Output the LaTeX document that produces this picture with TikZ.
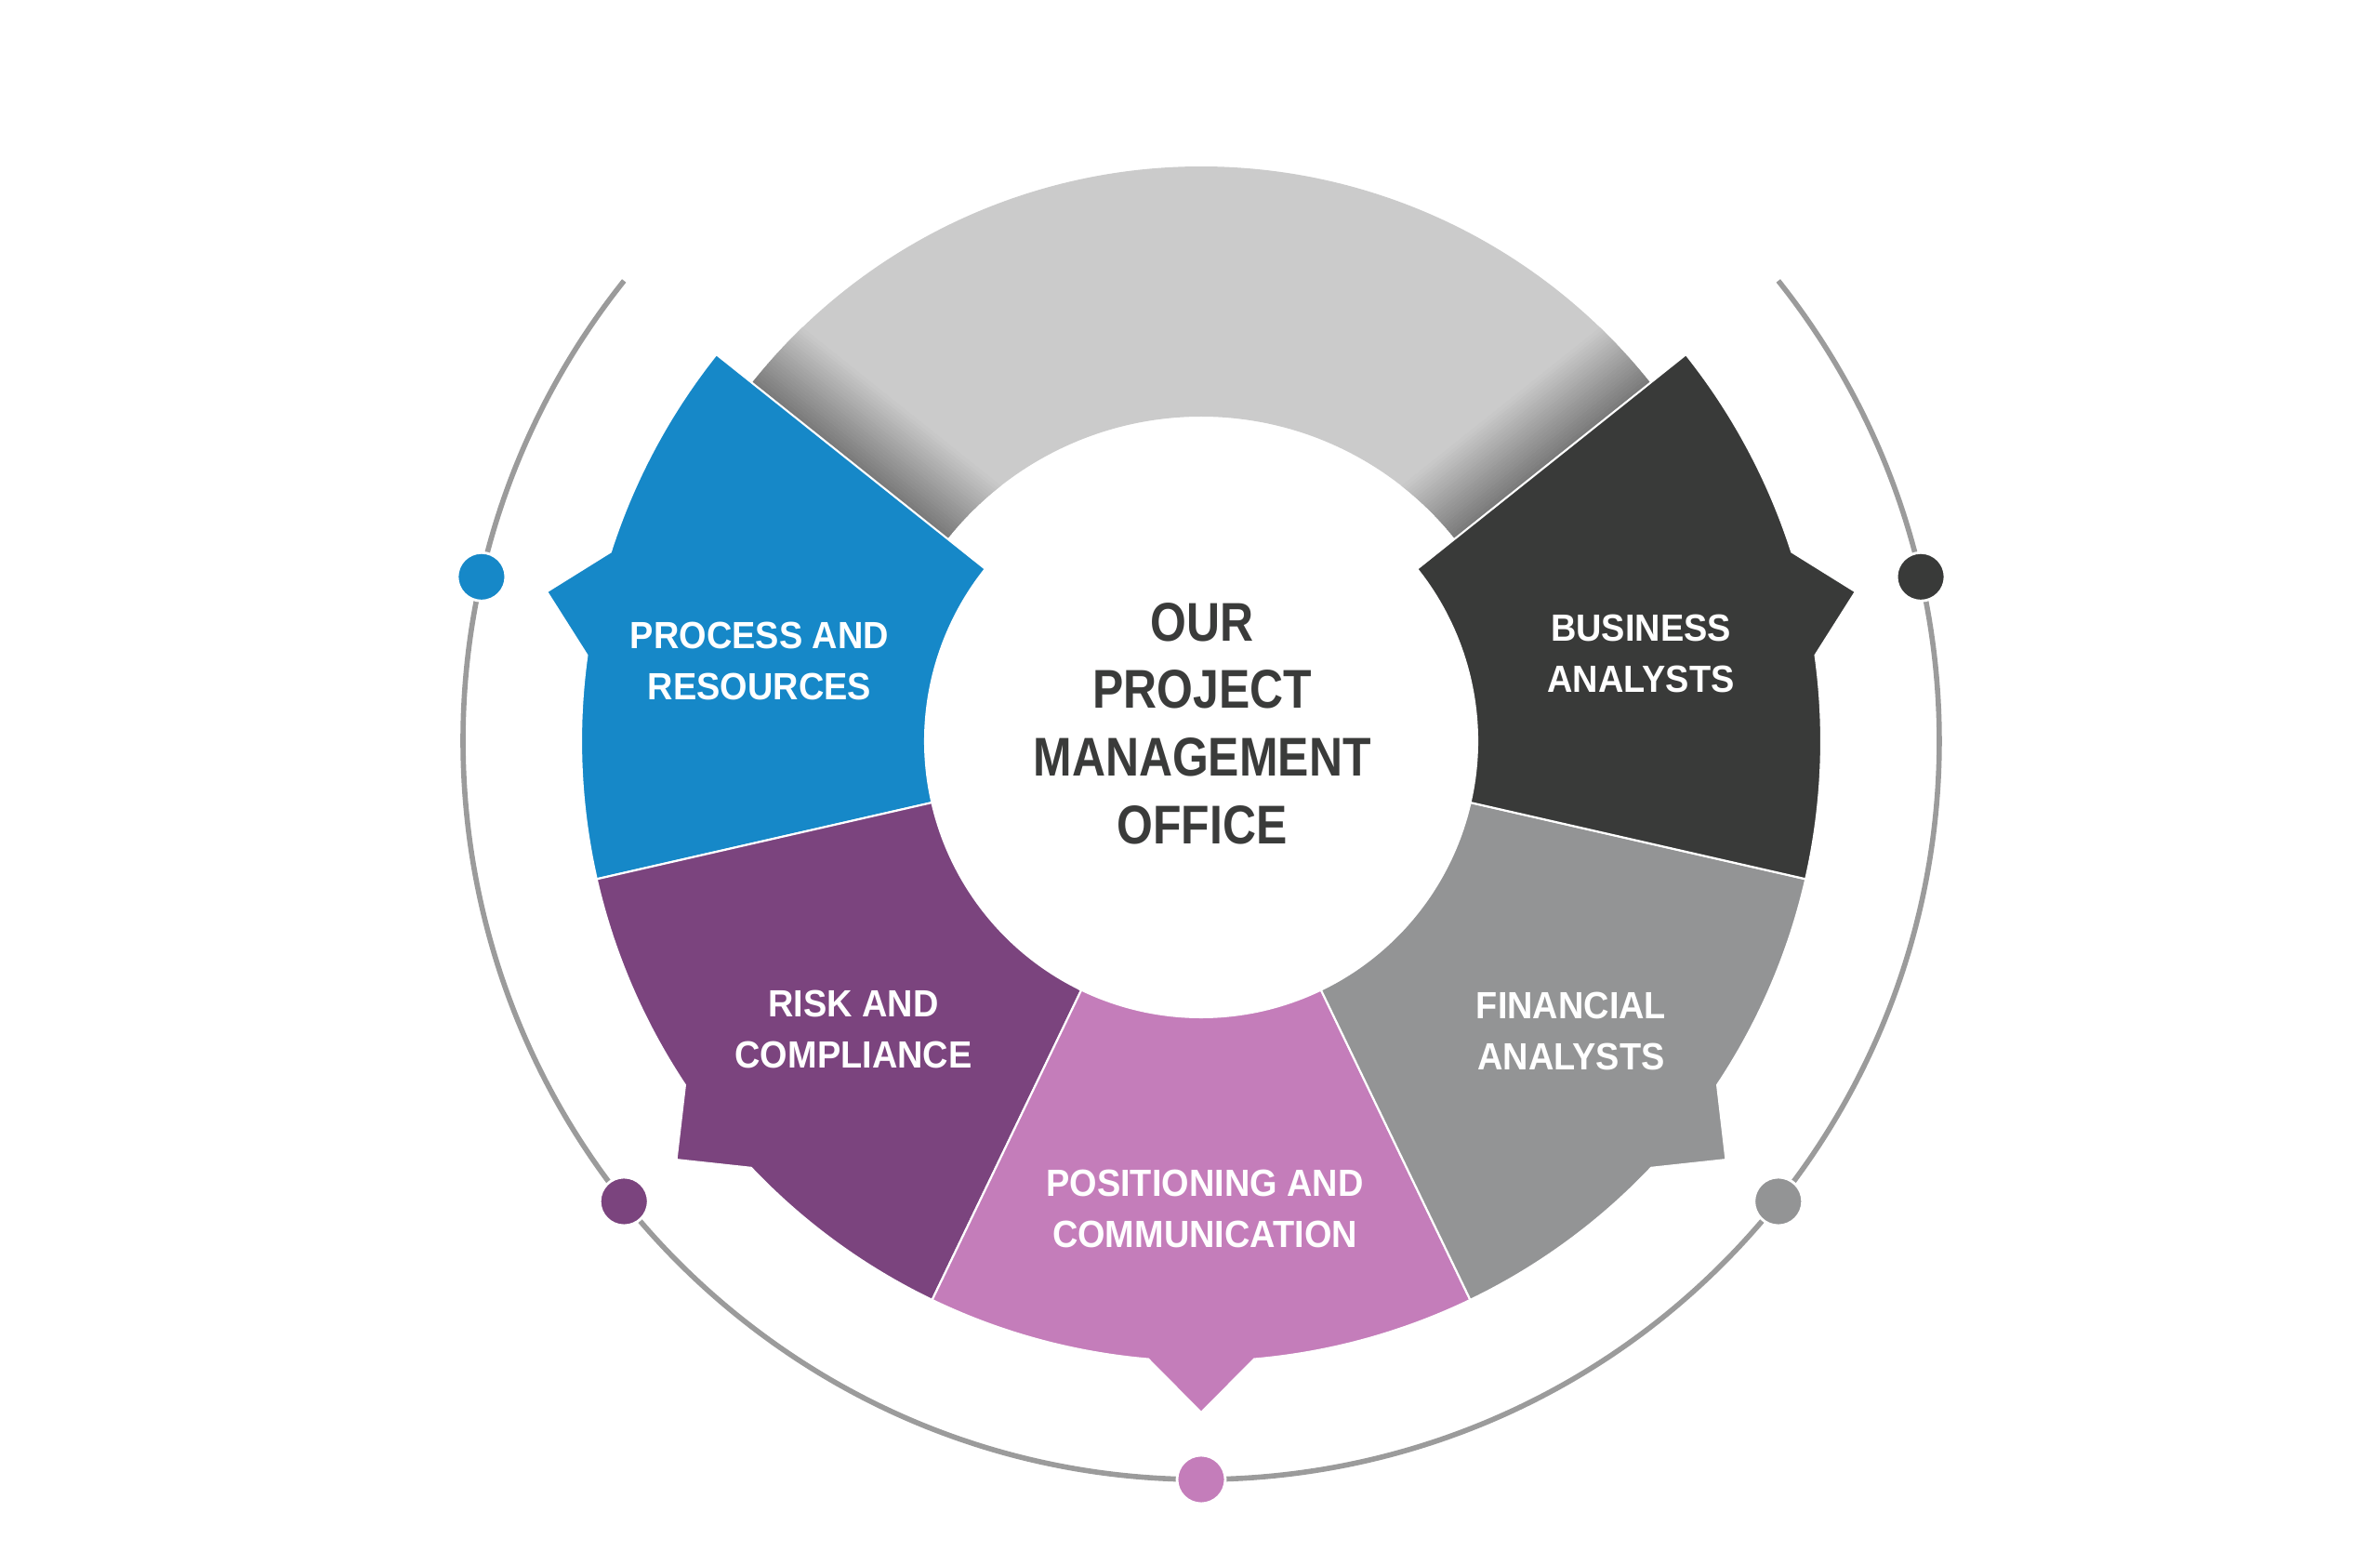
\documentclass[tikz,border=0pt]{standalone}
\usepackage{fontspec}
\setmainfont{Liberation Sans}
\newfontfamily\fuenteCentro[FakeStretch=0.85]{Liberation Sans}
\newfontfamily\fuenteEtiq[FakeStretch=0.93]{Liberation Sans}
\usepackage{xcolor}
\usepackage{tikz}
\usetikzlibrary{positioning}

\definecolor{azul}{HTML}{1688C8}
\definecolor{morado}{HTML}{7B447E}
\definecolor{rosa}{HTML}{C47DBA}
\definecolor{grisMedio}{HTML}{939495}
\definecolor{grisOscuro}{HTML}{393A39}
\definecolor{grisArco}{HTML}{CBCBCB}
\definecolor{grisSombra}{HTML}{7A7A7A}
\definecolor{grisLinea}{HTML}{9B9B9B}
\definecolor{textoOscuro}{HTML}{3A3B3A}

\begin{document}
\begin{tikzpicture}[
        segmento/.style={fill=#1, draw=white, line width=0.6pt},
        punto/.style={circle, fill=#1, draw=white, line width=0.8pt, minimum size=0.52cm, inner sep=0pt},
        etiqueta/.style={text=white, align=center, font=\fuenteEtiq\bfseries\fontsize{11.6}{15.8}\selectfont},
        titulo/.style={text=textoOscuro, align=center, font=\fuenteCentro\bfseries\fontsize{16.7}{20.7}\selectfont}
    ]
        % Marco
        \useasboundingbox (0,0) rectangle (25.6,16.69);
        \begin{scope}[shift={(12.92,8.72)}]
        % Circulo exterior
        \draw[grisLinea, line width=1.6pt] (141.43:7.94) arc[start angle=141.43, end angle=398.57, radius=7.94];
        % Arco gris de arriba
        \begin{scope}
            \clip (38.57:6.18) arc[start angle=38.57, end angle=141.43, radius=6.18] -- (141.43:3.49) arc[start angle=141.43, end angle=38.57, radius=3.49] -- cycle;
            \fill[grisArco] (-7,0) rectangle (7,7);
            % Sombras en los extremos
            \foreach \i in {0,...,24} {
                \pgfmathsetmacro{\mezcla}{100-4*\i}
                \fill[grisSombra!\mezcla!grisArco, rotate=141.43] (3,-\i*0.032) rectangle (6.5,-\i*0.032-0.036);
                \fill[grisSombra!\mezcla!grisArco, rotate=38.57] (3,\i*0.032) rectangle (6.5,\i*0.032+0.036);
            }
        \end{scope}
        % Segmentos de colores
        \foreach \m/\col in {167.14/azul, 218.57/morado, 270/rosa, 321.43/grisMedio, 372.86/grisOscuro} {
            \path[segmento=\col] ({\m-25.71}:2.97) -- ({\m-25.71}:6.67)
                arc[start angle=\m-25.71, end angle=\m-4.9, radius=6.67] -- (\m:7.22) -- ({\m+4.9}:6.67)
                arc[start angle=\m+4.9, end angle=\m+25.71, radius=6.67] -- ({\m+25.71}:2.97)
                arc[start angle=\m+25.71, end angle=\m-25.71, radius=2.97] -- cycle;
        }
        % Puntos sobre el circulo
        \node[punto=azul] (puntoAzul) at (167.14:7.94) {};
        \node[punto=morado] (puntoMorado) at (218.57:7.94) {};
        \node[punto=rosa] (puntoRosa) at (270:7.94) {};
        \node[punto=grisMedio] (puntoGris) at (321.43:7.94) {};
        \node[punto=grisOscuro] (puntoOscuro) at (12.86:7.94) {};
        % Textos
        \node[titulo] (pmo) at (0.01,0.19) {OUR\\PROJECT\\MANAGEMENT\\OFFICE};
        \node[etiqueta] (procesos) at (-4.75,0.86) {PROCESS AND\\RESOURCES};
        \node[etiqueta] (negocio) at (4.73,0.94) {BUSINESS\\ANALYSTS};
        \node[etiqueta] (riesgo) at (-3.74,-3.10) {RISK AND\\COMPLIANCE};
        \node[etiqueta] (finanzas) at (3.98,-3.12) {FINANCIAL\\ANALYSTS};
        \node[etiqueta] (comunicacion) at (0.04,-5.03) {POSITIONING AND\\COMMUNICATION};
        \end{scope}
    \end{tikzpicture}
\end{document}
